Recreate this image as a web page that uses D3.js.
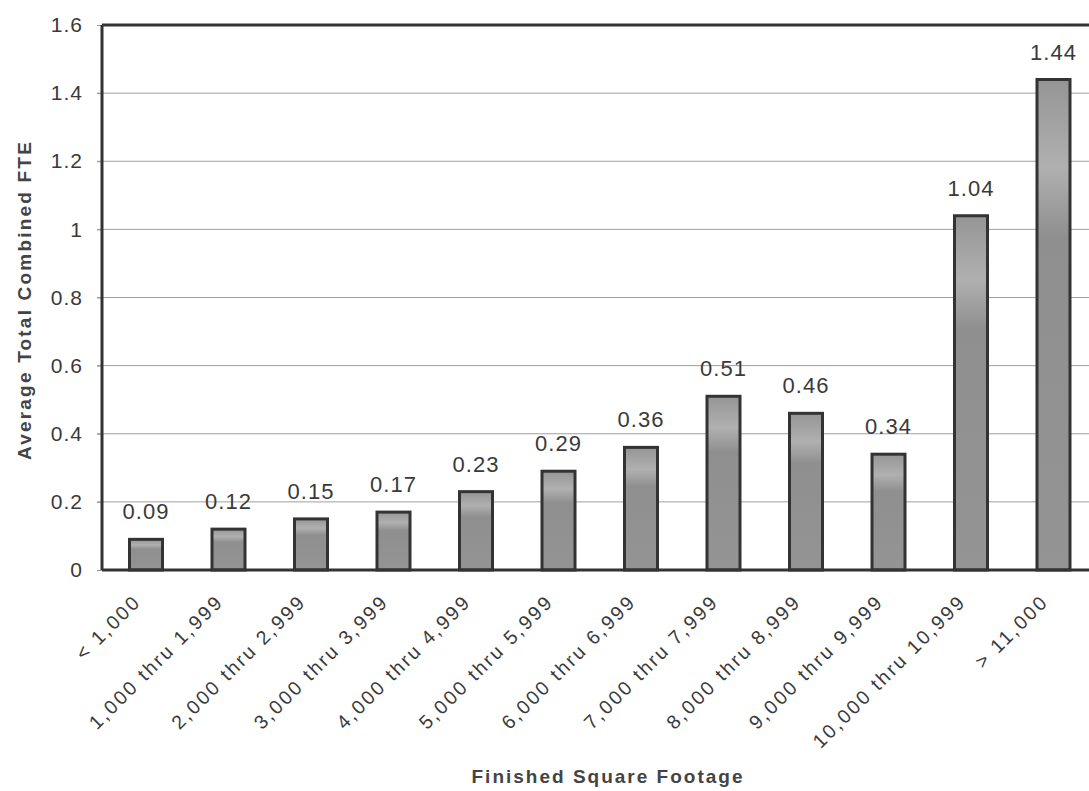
<!DOCTYPE html>
<html>
<head>
<meta charset="utf-8">
<script src="https://cdn.jsdelivr.net/npm/d3@7"></script>
<style>
  body { margin: 0; background: #fff; }
  text { font-family: Arial, "Liberation Sans", sans-serif; }
</style>
</head>
<body>
<svg id="chart"></svg>
<script>
// Data
const categories = ["< 1,000", "1,000 thru 1,999", "2,000 thru 2,999", "3,000 thru 3,999",
  "4,000 thru 4,999", "5,000 thru 5,999", "6,000 thru 6,999", "7,000 thru 7,999",
  "8,000 thru 8,999", "9,000 thru 9,999", "10,000 thru 10,999", "> 11,000"];
const values = [0.09, 0.12, 0.15, 0.17, 0.23, 0.29, 0.36, 0.51, 0.46, 0.34, 1.04, 1.44];
const yTicks = [0, 0.2, 0.4, 0.6, 0.8, 1, 1.2, 1.4, 1.6];

const W = 1089, H = 791;
const margin = {top: 25, right: -3, bottom: 221, left: 102};
const width = W - margin.left - margin.right;
const height = H - margin.top - margin.bottom;

const svg = d3.select("#chart")
  .attr("width", W)
  .attr("height", H)
  .append("g")
  .attr("transform", `translate(${margin.left},${margin.top})`);

// Gradient to mimic the shaded bars
const defs = d3.select("#chart").append("defs");
const grad = defs.append("linearGradient")
  .attr("id", "barFill")
  .attr("x1", 0).attr("x2", 0).attr("y1", 0).attr("y2", 1);
grad.append("stop").attr("offset", "0%").attr("stop-color", "#959595");
grad.append("stop").attr("offset", "18%").attr("stop-color", "#b0b0b0");
grad.append("stop").attr("offset", "32%").attr("stop-color", "#8f8f8f");
grad.append("stop").attr("offset", "100%").attr("stop-color", "#949494");

const x = d3.scaleBand()
  .domain(categories)
  .range([2.75, 2.75 + 990])
  .paddingInner(0.6)
  .paddingOuter(0.3);

const y = d3.scaleLinear()
  .domain([0, 1.6])
  .range([height, 0]);

// Gridlines
svg.append("g")
  .selectAll("line")
  .data(yTicks.filter(d => d > 0 && d < 1.6))
  .enter()
  .append("line")
  .attr("x1", -5)
  .attr("x2", width)
  .attr("y1", d => y(d))
  .attr("y2", d => y(d))
  .attr("stroke", "#a0a0a0")
  .attr("stroke-width", 1);

// Y axis
const yAxis = svg.append("g")
  .call(d3.axisLeft(y).tickValues(yTicks).tickFormat(d => d3.format("")(+d.toFixed(1))).tickSize(5).tickPadding(14));
yAxis.select(".domain").remove();
yAxis.selectAll(".tick line").attr("stroke", "#999");
yAxis.selectAll("text")
  .style("font-size", "21px")
  .style("letter-spacing", "1px")
  .attr("fill", "#3a3a3a");

// Bars
svg.selectAll(".bar")
  .data(values)
  .enter()
  .append("rect")
  .attr("class", "bar")
  .attr("x", (d, i) => x(categories[i]))
  .attr("y", d => y(d))
  .attr("width", x.bandwidth())
  .attr("height", d => height - y(d))
  .attr("fill", "url(#barFill)")
  .attr("stroke", "#333")
  .attr("stroke-width", 3);

// Value labels
svg.selectAll(".val")
  .data(values)
  .enter()
  .append("text")
  .attr("class", "val")
  .attr("x", (d, i) => x(categories[i]) + x.bandwidth() / 2)
  .attr("y", d => y(d) - 20)
  .attr("text-anchor", "middle")
  .attr("font-size", "22px")
  .style("letter-spacing", "1px")
  .attr("fill", "#3a3a3a")
  .text(d => d.toFixed(2));

// Frame: left, top, baseline
svg.append("line")
  .attr("x1", 0).attr("x2", 0).attr("y1", 0).attr("y2", height)
  .attr("stroke", "#333").attr("stroke-width", 3);
svg.append("line")
  .attr("x1", 0).attr("x2", width).attr("y1", 0).attr("y2", 0)
  .attr("stroke", "#333").attr("stroke-width", 3);
svg.append("line")
  .attr("x1", 0).attr("x2", width).attr("y1", height).attr("y2", height)
  .attr("stroke", "#333").attr("stroke-width", 3);

// X axis labels (rotated)
const xAxis = svg.append("g")
  .attr("transform", `translate(0,${height})`)
  .call(d3.axisBottom(x).tickSize(0).tickPadding(0));
xAxis.select(".domain").remove();
xAxis.selectAll("text")
  .style("font-size", "19.5px")
  .style("letter-spacing", "2.4px")
  .attr("fill", "#3a3a3a")
  .attr("text-anchor", "end")
  .attr("dy", 0)
  .attr("transform", "translate(-4,33) rotate(-45)");

// Axis titles
svg.append("text")
  .attr("text-anchor", "middle")
  .attr("x", 608 - margin.left)
  .attr("y", 783 - margin.top)
  .attr("font-size", "19px")
  .attr("font-weight", "bold")
  .style("letter-spacing", "2px")
  .attr("fill", "#444")
  .text("Finished Square Footage");

svg.append("text")
  .attr("text-anchor", "middle")
  .attr("transform", `translate(${31 - margin.left},${300 - margin.top}) rotate(-90)`)
  .attr("font-size", "19px")
  .attr("font-weight", "bold")
  .style("letter-spacing", "2.2px")
  .attr("fill", "#444")
  .text("Average Total Combined FTE");
</script>
</body>
</html>
